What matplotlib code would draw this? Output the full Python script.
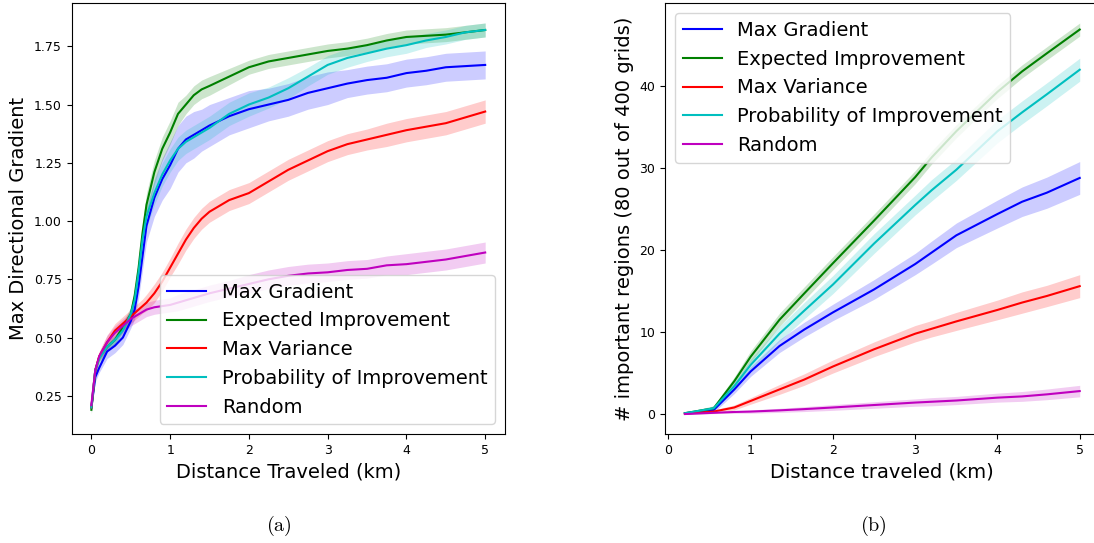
import numpy as np
from matplotlib import pyplot as plt

names = ["Max Gradient", "Expected Improvement", "Max Variance",
         "Probability of Improvement", "Random"]
colors = ["b", "g", "r", "c", "m"]

# (a) max directional gradient vs distance
distA = [0, 0.05, 0.1, 0.2, 0.3, 0.4, 0.5, 0.55, 0.6, 0.65, 0.7, 0.8, 0.9, 1.0,
         1.1, 1.2, 1.3, 1.4, 1.5, 1.75, 2.0, 2.25, 2.5, 2.75, 3.0, 3.25, 3.5,
         3.75, 4.0, 4.25, 4.5, 4.75, 5.0]
gradMG = [0.20, 0.33, 0.37, 0.44, 0.465, 0.50, 0.57, 0.62, 0.72, 0.85, 0.98, 1.10,
          1.18, 1.24, 1.31, 1.35, 1.37, 1.39, 1.41, 1.45, 1.48, 1.50, 1.52, 1.55,
          1.57, 1.59, 1.605, 1.615, 1.635, 1.645, 1.66, 1.665, 1.67]
gradEI = [0.19, 0.36, 0.415, 0.46, 0.49, 0.545, 0.60, 0.68, 0.80, 0.95, 1.07, 1.21,
          1.31, 1.38, 1.46, 1.50, 1.54, 1.565, 1.58, 1.62, 1.66, 1.685, 1.70, 1.715,
          1.73, 1.74, 1.755, 1.775, 1.79, 1.795, 1.80, 1.81, 1.82]
gradMV = [0.20, 0.36, 0.42, 0.48, 0.53, 0.56, 0.59, 0.605, 0.62, 0.635, 0.65, 0.69,
          0.74, 0.80, 0.86, 0.92, 0.97, 1.01, 1.04, 1.09, 1.12, 1.17, 1.22, 1.26,
          1.30, 1.33, 1.35, 1.37, 1.39, 1.405, 1.42, 1.445, 1.47]
gradPI = [0.20, 0.36, 0.41, 0.46, 0.49, 0.53, 0.60, 0.66, 0.78, 0.92, 1.02, 1.12,
          1.20, 1.26, 1.31, 1.34, 1.36, 1.38, 1.40, 1.46, 1.50, 1.53, 1.57, 1.62,
          1.67, 1.70, 1.72, 1.74, 1.755, 1.775, 1.79, 1.81, 1.82]
gradRand = [0.21, 0.36, 0.42, 0.48, 0.52, 0.55, 0.58, 0.59, 0.60, 0.61, 0.62, 0.63,
            0.635, 0.64, 0.65, 0.66, 0.67, 0.68, 0.69, 0.71, 0.73, 0.75, 0.765, 0.775,
            0.78, 0.79, 0.795, 0.81, 0.815, 0.825, 0.835, 0.85, 0.865]
stdMG = [0.02, 0.02, 0.02, 0.03, 0.03, 0.03, 0.03, 0.04, 0.05, 0.06, 0.07, 0.08,
         0.09, 0.10, 0.10, 0.10, 0.10, 0.09, 0.09, 0.08, 0.08, 0.07, 0.07, 0.07,
         0.07, 0.06, 0.06, 0.06, 0.06, 0.06, 0.06, 0.06, 0.06]
stdEI = [0.02, 0.02, 0.02, 0.02, 0.02, 0.02, 0.03, 0.03, 0.04, 0.04, 0.05, 0.05,
         0.05, 0.05, 0.05, 0.04, 0.04, 0.04, 0.04, 0.035, 0.03, 0.03, 0.03, 0.03,
         0.03, 0.03, 0.03, 0.03, 0.03, 0.03, 0.03, 0.03, 0.03]
stdMV = [0.02, 0.02, 0.02, 0.03, 0.03, 0.03, 0.03, 0.03, 0.03, 0.03, 0.035, 0.04,
         0.04, 0.04, 0.045, 0.045, 0.045, 0.045, 0.045, 0.045, 0.045, 0.045, 0.045,
         0.045, 0.045, 0.045, 0.045, 0.05, 0.05, 0.05, 0.05, 0.05, 0.05]
stdPI = [0.02, 0.02, 0.02, 0.02, 0.02, 0.02, 0.03, 0.03, 0.04, 0.05, 0.05, 0.05,
         0.05, 0.05, 0.05, 0.05, 0.05, 0.05, 0.05, 0.05, 0.05, 0.045, 0.045, 0.04,
         0.04, 0.04, 0.035, 0.035, 0.035, 0.03, 0.03, 0.03, 0.03]
stdRand = [0.02, 0.02, 0.02, 0.03, 0.03, 0.03, 0.03, 0.03, 0.03, 0.03, 0.03, 0.03,
           0.03, 0.03, 0.035, 0.035, 0.035, 0.035, 0.035, 0.035, 0.04, 0.04, 0.04,
           0.04, 0.04, 0.04, 0.04, 0.04, 0.045, 0.045, 0.045, 0.045, 0.045]

# (b) number of important regions found vs distance
distB = [0.2, 0.55, 0.8, 1.0, 1.35, 1.65, 2.0, 2.5, 3.0, 3.2, 3.5, 4.0, 4.3, 4.6, 5.0]
regMG = [0.1, 0.5, 3.0, 5.2, 8.3, 10.3, 12.4, 15.2, 18.3, 19.7, 21.8, 24.4, 25.9, 27.0, 28.8]
regEI = [0.1, 0.7, 4.0, 7.0, 11.5, 14.7, 18.4, 23.6, 28.9, 31.3, 34.5, 39.3, 41.8, 44.0, 46.9]
regMV = [0.05, 0.3, 0.8, 1.6, 3.0, 4.2, 5.8, 7.9, 9.8, 10.4, 11.3, 12.7, 13.6, 14.4, 15.6]
regPI = [0.1, 0.7, 3.4, 6.0, 9.8, 12.6, 15.8, 20.8, 25.5, 27.3, 29.8, 34.5, 36.8, 39.0, 42.0]
regRand = [0.0, 0.15, 0.25, 0.3, 0.45, 0.6, 0.8, 1.1, 1.4, 1.5, 1.65, 2.0, 2.15, 2.4, 2.8]
sdMG = [0.1, 0.3, 0.5, 0.6, 0.8, 0.9, 1.0, 1.2, 1.3, 1.4, 1.5, 1.7, 1.8, 1.9, 2.0]
sdEI = [0.1, 0.3, 0.5, 0.7, 0.8, 0.8, 0.8, 0.8, 0.8, 0.8, 0.8, 0.8, 0.8, 0.8, 0.8]
sdMV = [0.05, 0.2, 0.3, 0.4, 0.6, 0.7, 0.8, 0.9, 1.0, 1.0, 1.1, 1.2, 1.3, 1.3, 1.4]
sdPI = [0.1, 0.3, 0.5, 0.7, 0.9, 1.0, 1.1, 1.2, 1.2, 1.3, 1.3, 1.4, 1.4, 1.4, 1.4]
sdRand = [0.05, 0.1, 0.15, 0.2, 0.25, 0.3, 0.35, 0.4, 0.45, 0.5, 0.5, 0.55, 0.6, 0.65, 0.7]

fig = plt.figure(figsize=(10.94, 5.43), dpi=100)
axA = fig.add_axes([0.0655, 0.2007, 0.396, 0.793])
# right panel runs off the edge of the page, as in the original
axB = fig.add_axes([0.608, 0.2007, 0.397, 0.793])

seriesA = [(gradMG, stdMG), (gradEI, stdEI), (gradMV, stdMV), (gradPI, stdPI), (gradRand, stdRand)]
seriesB = [(regMG, sdMG), (regEI, sdEI), (regMV, sdMV), (regPI, sdPI), (regRand, sdRand)]

for ax, x, series in [(axA, distA, seriesA), (axB, distB, seriesB)]:
    x = np.array(x)
    for (m, s), c, name in zip(series, colors, names):
        m = np.array(m)
        s = np.array(s)
        ax.fill_between(x, m - s, m + s, color=c, alpha=0.2, linewidth=0)
        ax.plot(x, m, color=c, linewidth=1.5, label=name)
    ax.tick_params(labelsize=9)

axA.set_xlabel("Distance Traveled (km)", fontsize=14)
axA.set_ylabel("Max Directional Gradient", fontsize=14)
axA.set_yticks([0.25, 0.5, 0.75, 1.0, 1.25, 1.5, 1.75])
axA.legend(loc="lower right", fontsize=14)

axB.set_xlabel("Distance traveled (km)", fontsize=14)
axB.set_ylabel("# important regions (80 out of 400 grids)", fontsize=14)
axB.set_xticks([0, 1, 2, 3, 4, 5])
axB.set_yticks([0, 10, 20, 30, 40])
axB.legend(loc="upper left", fontsize=14)

fig.text(0.255, 0.031, r"$\mathrm{(a)}$", fontsize=14.5, ha="center", va="center", math_fontfamily="cm")
fig.text(0.798, 0.031, r"$\mathrm{(b)}$", fontsize=14.5, ha="center", va="center", math_fontfamily="cm")

plt.savefig("out.png", dpi=100)
